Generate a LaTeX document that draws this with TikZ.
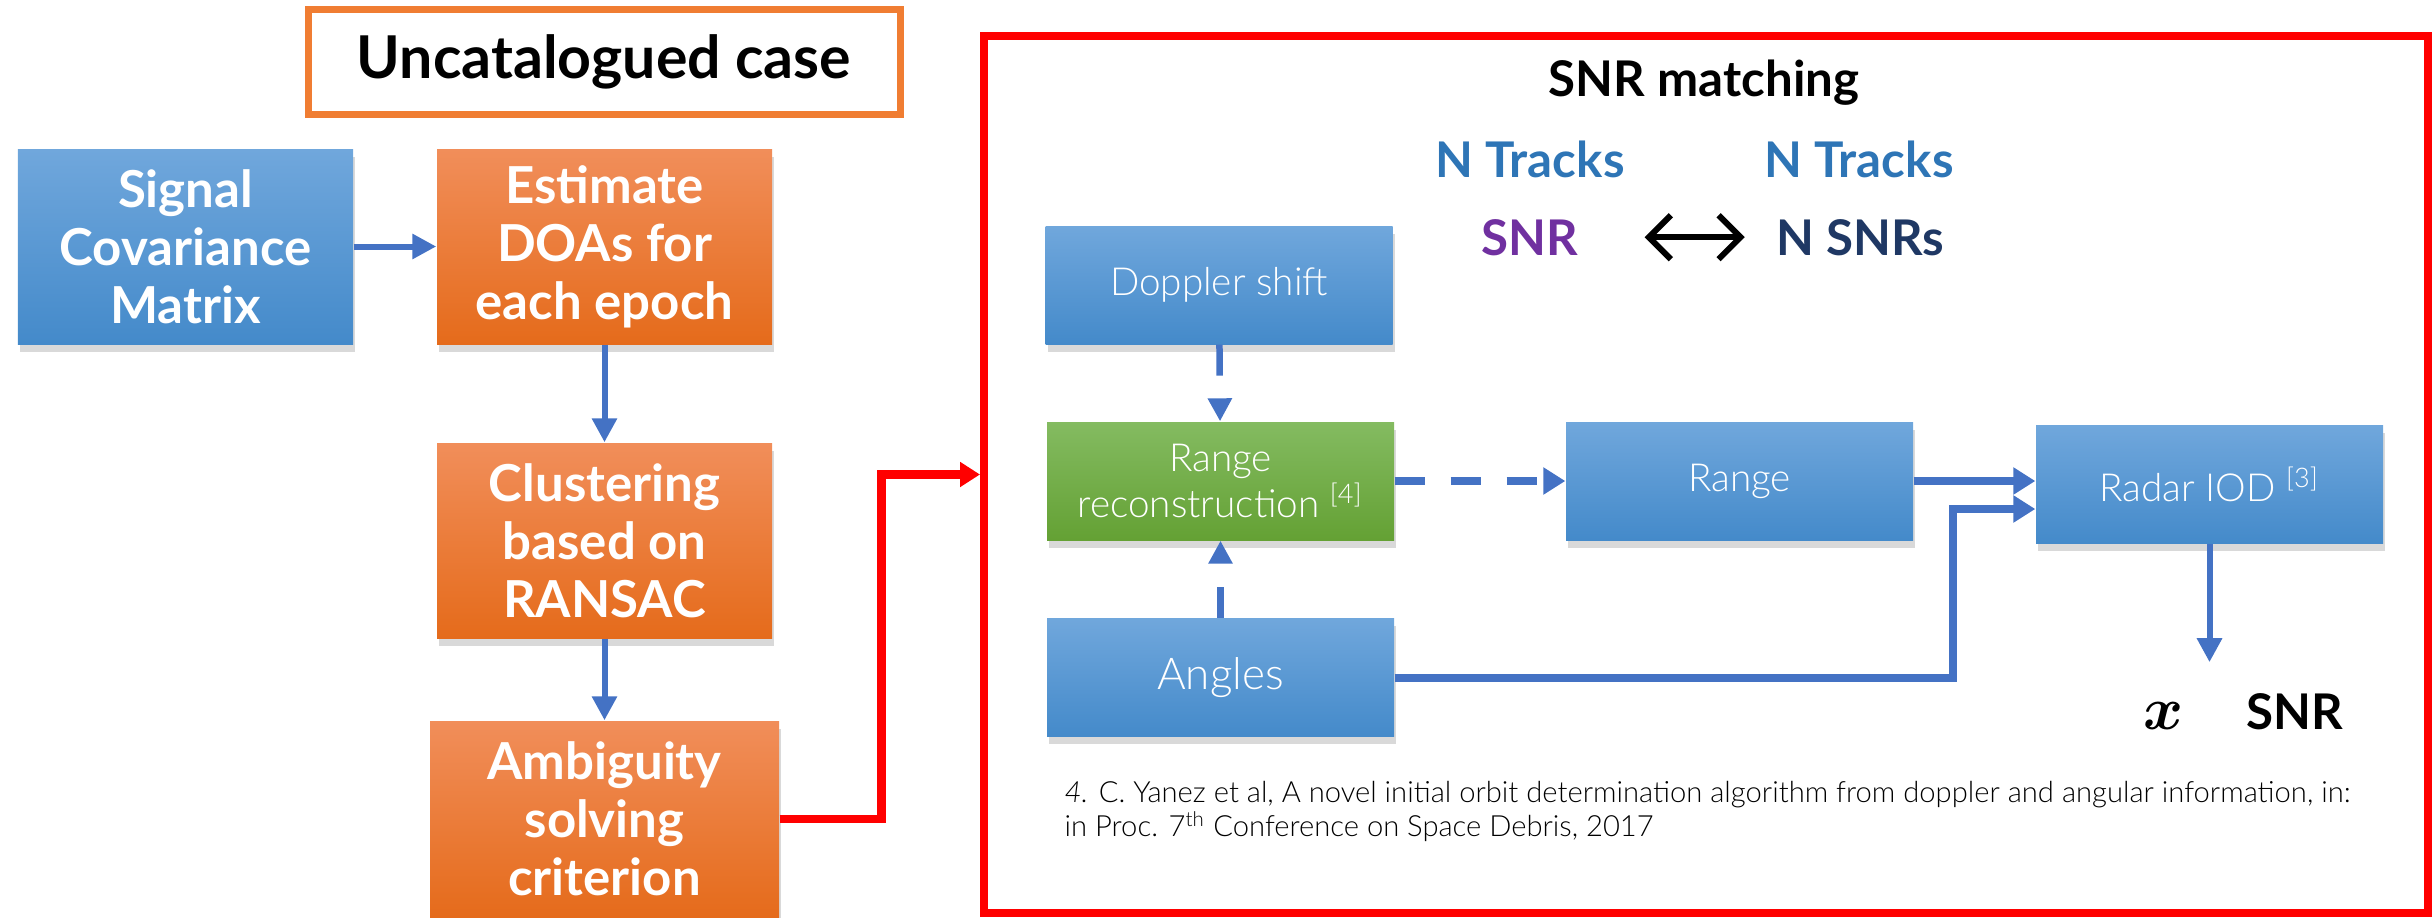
\documentclass[tikz,border=0pt]{standalone}
\usepackage{fontspec}
\usepackage{amsmath,bm}
\setmainfont{Lato}
\newfontfamily\lightfont{Lato Light}
\usetikzlibrary{arrows.meta,shadows}
\definecolor{arrblue}{RGB}{68,114,196}
\definecolor{boxblueT}{RGB}{112,167,220}
\definecolor{boxblueB}{RGB}{68,138,202}
\definecolor{boxorT}{RGB}{241,142,90}
\definecolor{boxorB}{RGB}{229,107,27}
\definecolor{boxgrT}{RGB}{132,187,97}
\definecolor{boxgrB}{RGB}{100,161,52}
\definecolor{frameor}{RGB}{240,125,50}
\definecolor{trackblue}{RGB}{46,117,182}
\definecolor{snrpurple}{RGB}{112,48,160}
\definecolor{snrnavy}{RGB}{31,56,100}
\begin{document}
\begin{tikzpicture}[shadowed/.style={drop shadow={shadow xshift=0.6pt,shadow yshift=-2.2pt,opacity=0.3}},
lbox/.style={shadowed,align=center,text=white,font=\fontsize{14.5}{16.5}\selectfont\bfseries,minimum width=33.5mm,minimum height=19.5mm,inner sep=0pt},
rbox/.style={shadowed,align=center,text=white,font=\lightfont\fontsize{11}{13}\selectfont,minimum width=34.7mm,minimum height=11.8mm,inner sep=0pt},
bluefill/.style={top color=boxblueT,bottom color=boxblueB},orangefill/.style={top color=boxorT,bottom color=boxorB},greenfill/.style={top color=boxgrT,bottom color=boxgrB},
lbl/.style={font=\fontsize{14}{16}\selectfont\bfseries,anchor=base},
arr/.style={-{Triangle[length=2.4mm,width=2.4mm]},line width=0.6mm,arrblue},
thickarr/.style={-{Triangle[length=2.2mm,width=2.6mm]},line width=0.8mm,arrblue},
dasharr/.style={-{Triangle[length=2.3mm,width=2.3mm]},line width=0.65mm,arrblue,dash pattern=on 3.1mm off 2.4mm}]
\useasboundingbox (0,0) rectangle (24.33,9.17);
% left column
\node[draw=frameor,line width=0.7mm,minimum width=59.2mm,minimum height=10.5mm,font=\fontsize{16.8}{19}\selectfont\bfseries] (uncat) at (6.04,8.55) {Uncatalogued case};
\node[lbox,bluefill] (sig) at (1.855,6.705) {Signal\\Covariance\\Matrix};
\node[lbox,orangefill] (est) at (6.045,6.705) {Estimate\\DOAs for\\each epoch};
\node[lbox,orangefill] (clu) at (6.045,3.765) {Clustering\\based on\\RANSAC};
\node[lbox,orangefill,minimum width=34.9mm,minimum height=19.6mm] (amb) at (6.045,0.98) {Ambiguity\\solving\\criterion};
\draw[arr] (sig)--(est);\draw[arr] (est)--(clu);\draw[arr] (clu)--(amb);
% SNR matching frame
\node[draw=red,line width=0.8mm,minimum width=144.4mm,minimum height=87.7mm] (snrframe) at (17.06,4.425) {};
\draw[-{Triangle[length=2mm,width=2.4mm]},line width=0.85mm,red] (amb.east)--++(1.02,0)|-(snrframe.west);
\node[lbl] (title) at (17.04,8.20) {SNR matching};
\node[lbl,text=trackblue] (trkA) at (15.30,7.40) {N Tracks};
\node[lbl,text=trackblue] (trkB) at (18.59,7.40) {N Tracks};
\node[lbl,text=snrpurple] (snrA) at (15.30,6.62) {SNR};
\node[lbl,text=snrnavy] (snrB) at (18.60,6.62) {N SNRs};
\draw[{Straight Barb[length=2.2mm,width=4.4mm]}-{Straight Barb[length=2.2mm,width=4.4mm]},line width=1.7pt,shorten <=5.4mm,shorten >=1.9mm] (snrA.east)--(snrB.west);
\node[rbox,bluefill] (dop) at (12.19,6.32) {Doppler shift};
\node[rbox,greenfill] (rec) at (12.205,4.36) {Range\\reconstruction \textsuperscript{[4]}};
\node[rbox,bluefill] (rng) at (17.395,4.36) {Range};
\node[rbox,bluefill] (iod) at (22.095,4.325) {Radar IOD \textsuperscript{[3]}};
\node[rbox,bluefill,font=\lightfont\fontsize{12.5}{15}\selectfont] (ang) at (12.205,2.395) {Angles};
\draw[dasharr] (dop)--(rec);\draw[dasharr] (ang)--(rec);
\draw[thickarr,dash pattern=on 3mm off 2.6mm] (rec)--(rng);
\draw[thickarr] (rng.east)--(rng.east-|iod.west);
\coordinate (iodlow) at ([yshift=-2.45mm]iod.west);
\draw[thickarr] (ang.east)-|([xshift=-8.2mm]iodlow)--(iodlow);
\coordinate (iodout) at ([yshift=-11.8mm]iod.south);
\draw[arr] (iod)--(iodout);
\node[anchor=base] (xvec) at (21.63,1.88) {\LARGE$\bm{x}$};
\node[lbl] (snrout) at (22.95,1.88) {SNR};
\node[font=\lightfont\fontsize{8.3}{9.6}\selectfont,text=black,anchor=west,align=left,inner sep=0pt] (ref) at (10.64,1.055) {\textit{4.} C. Yanez et al, A novel initial orbit determination algorithm from doppler and angular information, in:\\in Proc. 7\textsuperscript{th} Conference on Space Debris, 2017};
\end{tikzpicture}
\end{document}
